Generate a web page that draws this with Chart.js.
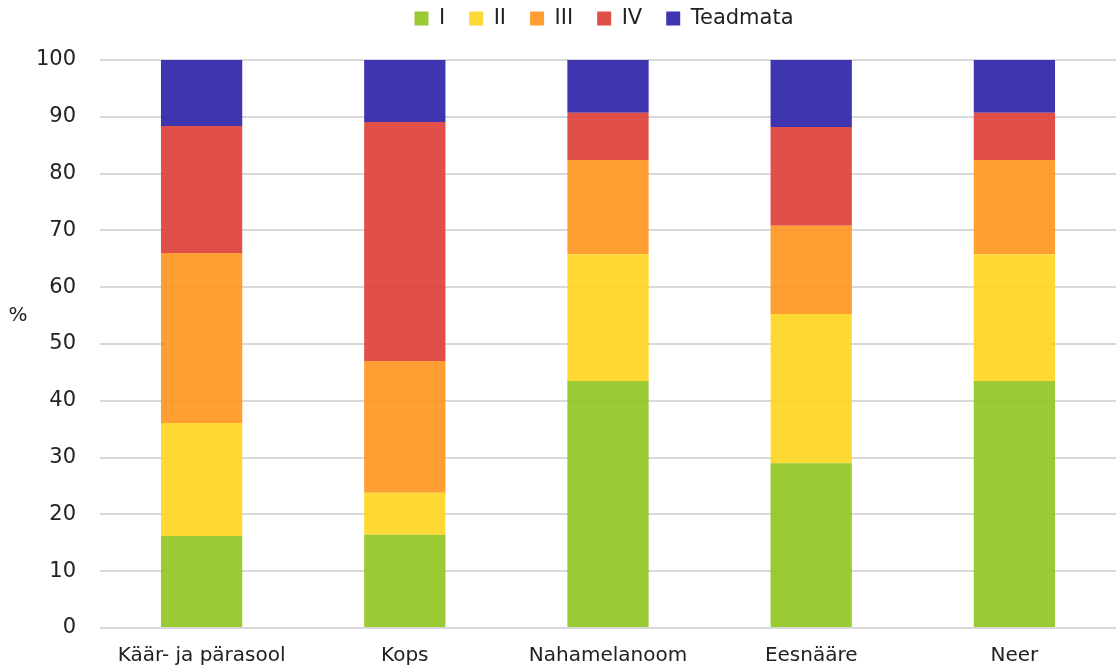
<!DOCTYPE html>
<html>
<head>
<meta charset="utf-8">
<script src="https://cdn.jsdelivr.net/npm/chart.js@4"></script>
<style>
  html, body { margin: 0; padding: 0; background: #fff; }
  #wrap { width: 1116px; height: 672px; }
</style>
</head>
<body>
<div id="wrap"><canvas id="c" width="1116" height="672"></canvas></div>
<script>
// Cancer sites (categories)
const categories = ["Käär- ja pärasool", "Kops", "Nahamelanoom", "Eesnääre", "Neer"];

// Share of cases by stage, %
const stageI        = [16.2, 16.4, 43.5, 29.0, 43.5];
const stageII       = [19.9,  7.4, 22.3, 26.3, 22.3];
const stageIII      = [29.9, 23.2, 16.6, 15.5, 16.6];
const stageIV       = [22.4, 42.1,  8.3, 17.4,  8.3];
const stageUnknown  = [11.6, 10.9,  9.3, 11.8,  9.3];

const seriesNames = ["I", "II", "III", "IV", "Teadmata"];
const yTicks = [0, 10, 20, 30, 40, 50, 60, 70, 80, 90, 100];
const yUnit = "%";

const colors = [
  "rgba(143,196,30,0.9)",
  "rgba(255,213,29,0.9)",
  "rgba(255,147,28,0.9)",
  "rgba(221,61,53,0.9)",
  "rgba(42,31,168,0.9)"
];

const seriesData = [stageI, stageII, stageIII, stageIV, stageUnknown];
const fontFamily = "'DejaVu Sans', sans-serif";
const textColor = "#222";

// Legend block: fixed height, centred over the plot area; horizontal unit label on the left
const layoutTweaks = {
  id: "layoutTweaks",
  beforeLayout(chart) {
    const lg = chart.legend;
    if (lg && !lg._fixedFit) {
      const fit = lg.fit.bind(lg);
      lg.fit = function () { fit(); this.height = 60; };
      lg._fixedFit = true;
    }
  },
  beforeDraw(chart) {
    const lg = chart.legend;
    if (lg) {
      const w = lg.right - lg.left;
      const mid = (chart.chartArea.left + chart.chartArea.right) / 2 - 4;
      lg.left = mid - w / 2;
      lg.right = mid + w / 2;
      lg.top = -16;
    }
  },
  afterDraw(chart) {
    const ctx = chart.ctx;
    const y = chart.scales.y;
    ctx.save();
    ctx.fillStyle = textColor;
    ctx.font = "20px " + fontFamily;
    ctx.textAlign = "center";
    ctx.textBaseline = "middle";
    ctx.fillText(yUnit, 18, (y.top + y.bottom) / 2 - 28);
    ctx.restore();
  }
};

new Chart(document.getElementById("c"), {
  type: "bar",
  data: {
    labels: categories,
    datasets: seriesData.map((d, i) => ({
      label: seriesNames[i],
      data: d,
      backgroundColor: colors[i],
      borderWidth: 0,
      barPercentage: 0.4,
      categoryPercentage: 1.0
    }))
  },
  plugins: [layoutTweaks],
  options: {
    responsive: false,
    animation: false,
    layout: { padding: 0 },
    plugins: {
      legend: {
        position: "top",
        labels: {
          boxWidth: 14,
          boxHeight: 14,
          padding: 24,
          color: textColor,
          font: { family: fontFamily, size: 21 }
        }
      },
      tooltip: { enabled: false }
    },
    scales: {
      x: {
        stacked: true,
        afterFit: (axis) => { axis.height = 44; },
        grid: { display: false, drawTicks: false },
        border: { display: false },
        ticks: { color: textColor, font: { family: fontFamily, size: 20 }, padding: 16, maxRotation: 0 }
      },
      y: {
        stacked: true,
        min: 0,
        max: 100,
        afterBuildTicks: (axis) => { axis.ticks = yTicks.map(v => ({ value: v })); },
        afterFit: (axis) => { axis.width = 100; },
        grid: { color: "#d9d9d9", lineWidth: 2, drawTicks: false },
        border: { display: false },
        ticks: { color: textColor, font: { family: fontFamily, size: 21 }, padding: 24 }
      }
    }
  }
});
</script>
</body>
</html>
